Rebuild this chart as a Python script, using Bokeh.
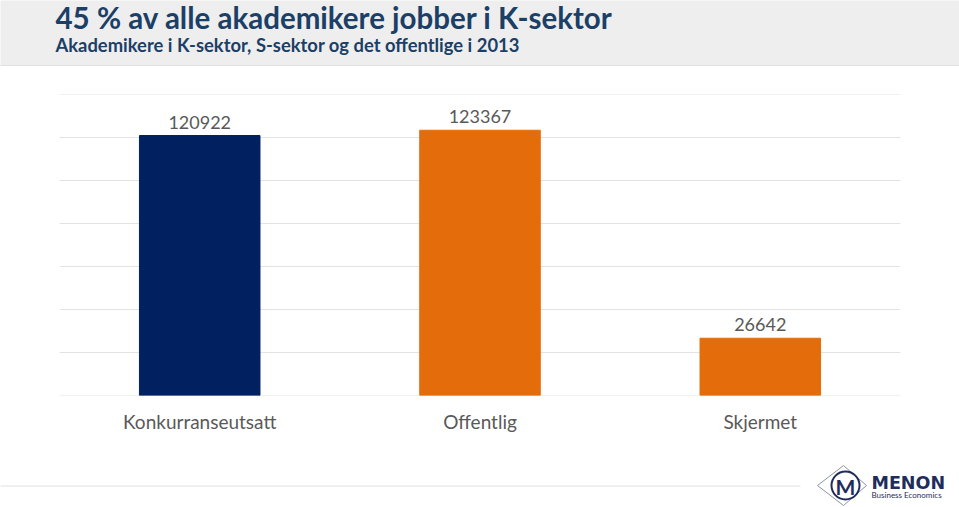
from bokeh.plotting import figure
from bokeh.layouts import column
from bokeh.models import ColumnDataSource, Range1d, FactorRange, LabelSet
from bokeh.core.properties import value
from bokeh.embed import file_html
from bokeh.resources import INLINE

categories = ["Konkurranseutsatt", "Offentlig", "Skjermet"]
values = [120922, 123367, 26642]
colors = ["#002060", "#E46C0A", "#E46C0A"]
title_text = "45 % av alle akademikere jobber i K-sektor"
subtitle_text = "Akademikere i K-sektor, S-sektor og det offentlige i 2013"
y_max = 140000
y_step = 20000
grid_values = list(range(0, y_max + 1, y_step))

FONT = "Lato"
NAVY = "#1b3f66"
LOGO = "#1f2d5c"


def blank(height, bg):
    f = figure(width=959, height=height, output_backend="svg", toolbar_location=None,
               x_range=Range1d(0, 959), y_range=Range1d(height, 0),
               x_axis_location=None, y_axis_location=None, min_border=0)
    f.xgrid.visible = False
    f.ygrid.visible = False
    f.outline_line_color = None
    f.background_fill_color = bg
    f.border_fill_color = bg
    return f


# ---------- header ----------
H_HEAD = 66
head = blank(H_HEAD, "#eeeeee")
head.segment(x0=[0], y0=[65.5], x1=[959], y1=[65.5], line_color="#d4d4d4", line_width=1)
head.text(x=[55], y=[17], text=[title_text], text_font=value(FONT), text_font_style="bold",
          text_font_size="29.5px", text_color=NAVY, text_baseline="middle")
head.text(x=[55], y=[44.5], text=[subtitle_text], text_font=value(FONT), text_font_style="bold",
          text_font_size="18.4px", text_color=NAVY, text_baseline="middle")

# ---------- chart ----------
H_CHART = 394
src = ColumnDataSource(dict(cat=categories, val=values, color=colors,
                            label=[str(v) for v in values]))

p = figure(width=959, height=H_CHART, output_backend="svg", toolbar_location=None,
           x_range=FactorRange(*categories, range_padding=0.1405,
                               range_padding_units="percent"),
           y_range=Range1d(0, y_max),
           y_axis_location=None,
           min_border_left=0, min_border_right=0,
           min_border_top=28, min_border_bottom=H_CHART - 329)
p.outline_line_color = None
p.background_fill_color = "white"
p.border_fill_color = "white"
p.xgrid.visible = False
p.ygrid.visible = False

# horizontal gridlines spanning the three category slots
p.segment(x0=[0] * len(grid_values), x1=[len(categories)] * len(grid_values),
          y0=grid_values, y1=grid_values, line_color="#e3e3e3", line_width=1)

p.vbar(x="cat", top="val", width=0.43, color="color", source=src)

p.add_layout(LabelSet(x="cat", y="val", text="label", source=src, text_align="center",
                      text_baseline="bottom", y_offset=7, text_font=value(FONT),
                      text_font_size="18px", text_color="#595959"))

ax = p.xaxis[0]
ax.axis_line_color = None
ax.major_tick_line_color = None
ax.minor_tick_line_color = None
ax.major_label_text_font = FONT
ax.major_label_text_font_size = "19px"
ax.major_label_text_color = "#595959"
ax.major_label_standoff = 8

# ---------- footer ----------
H_FOOT = 507 - H_HEAD - H_CHART
foot = blank(H_FOOT, "white")
off = H_HEAD + H_CHART
fy = 485.5 - off
foot.segment(x0=[0], y0=[fy], x1=[800], y1=[fy], line_color="#e0e0e0", line_width=1)
cy = 485 - off
foot.patch(x=[817, 843, 866, 843], y=[cy, cy - 20, cy, cy + 20], fill_color=None,
           line_color="#8a93a8", line_width=1)
foot.scatter(x=[845], y=[cy], size=28, marker="circle", fill_color="white",
             line_color=LOGO, line_width=2)
foot.text(x=[845], y=[cy + 1], text=["M"], text_font=value(FONT), text_font_style="bold",
          text_font_size="21px", text_color=LOGO, text_align="center",
          text_baseline="middle")
foot.text(x=[871], y=[482.5 - off], text=["MENON"], text_font=value("DejaVu Sans"),
          text_font_style="bold", text_font_size="17.5px", text_color=LOGO,
          text_baseline="middle")
foot.text(x=[871], y=[494 - off], text=["Business Economics"], text_font=value(FONT),
          text_font_size="8px", text_color=LOGO, text_baseline="middle")

layout = column(head, p, foot, spacing=0)
open("out.html", "w").write(file_html(layout, INLINE))
